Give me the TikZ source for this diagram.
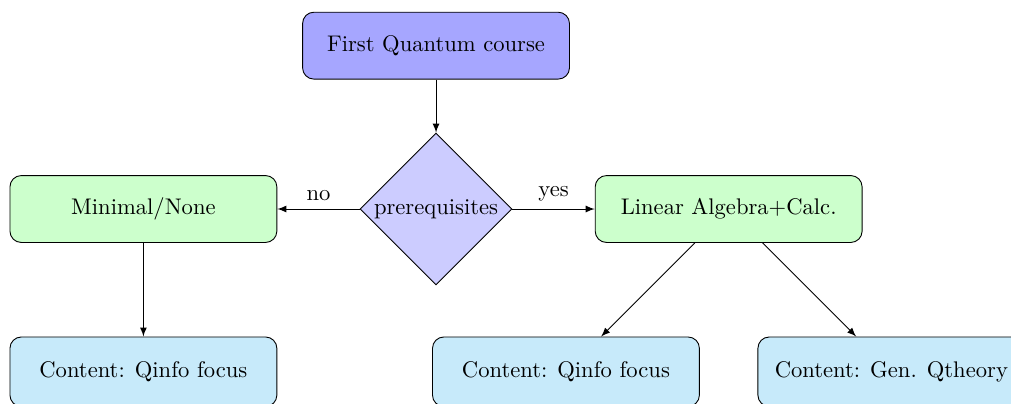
\documentclass[tikz,border=0pt]{standalone}
\usetikzlibrary{arrows,shapes.geometric}
\tikzset{>=latex}
\definecolor{contentblue}{RGB}{199,234,250}

\begin{document}
\begin{tikzpicture}[->,auto,align=center]
\tikzstyle{obj} = [rectangle,draw,align=center,minimum width=4.15cm,minimum height=1.04cm,rounded corners=5pt]
\tikzstyle{choice} = [diamond,draw,fill=blue!20,inner sep=0pt,minimum size=2.36cm]
\tikzstyle{content} = [obj,fill=contentblue,minimum height=1.08cm]
\useasboundingbox (-6.78,-3.02) rectangle (8.94,3.25);
\node[obj,fill=blue!35] (first) at (0,2.54) {First Quantum course};
\node[choice] (prereq) at (0,0) {prerequisites};
\node[obj,fill=green!20] (minimal) at (-4.55,0) {Minimal/None};
\node[obj,fill=green!20] (linalg) at (4.55,0) {Linear Algebra+Calc.};
\node[content] (qinfoa) at (-4.55,-2.53) {Content: Qinfo focus};
\node[content] (qinfob) at (2.02,-2.53) {Content: Qinfo focus};
\node[content] (qtheory) at (7.08,-2.53) {Content: Gen. Qtheory};
\draw (first) -- (prereq);
\draw (prereq) -- (minimal) node[midway,above] {no};
\draw (prereq) -- (linalg) node[midway,above] {yes};
\draw (minimal) -- (qinfoa);
\draw (linalg) -- (qinfob);
\draw (linalg) -- (qtheory);
\end{tikzpicture}
\end{document}
